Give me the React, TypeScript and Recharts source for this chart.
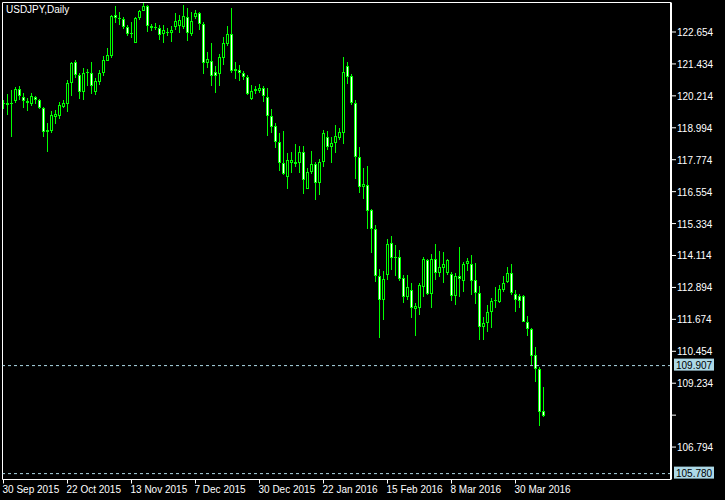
import React from 'react';
import { ComposedChart, Bar, XAxis, YAxis, ReferenceLine } from 'recharts';

// USDJPY daily candles, 30 Sep 2015 .. 8 Apr 2016 (one entry per trading day)
const opens = [
  119.95, 119.88, 119.92, 120.00, 120.46, 120.18, 120.02, 119.92, 120.16, 120.06,
  119.74, 118.82, 118.86, 119.39, 119.46, 119.80, 119.92, 120.69, 121.51, 121.00,
  120.37, 121.08, 121.08, 120.37, 120.76, 121.08, 121.56, 121.75, 123.30, 123.18,
  123.15, 122.83, 122.58, 122.25, 123.18, 123.46, 123.65, 122.88, 122.83, 122.82,
  122.58, 122.67, 122.60, 122.83, 122.90, 122.83, 123.24, 122.57, 123.21, 123.37,
  122.95, 121.46, 121.56, 121.11, 121.05, 121.65, 122.18, 122.57, 121.18, 121.20,
  121.08, 120.92, 120.11, 120.39, 120.41, 120.51, 120.18, 119.43, 119.06, 118.44,
  117.64, 117.10, 117.64, 117.60, 117.66, 118.06, 116.64, 117.29, 117.61, 116.90,
  117.67, 118.65, 118.27, 118.40, 118.62, 118.81, 121.36, 120.97, 119.93, 117.87,
  116.75, 116.81, 115.85, 115.11, 113.33, 112.41, 113.36, 114.58, 114.04, 114.04,
  113.24, 112.54, 112.80, 112.06, 112.12, 112.92, 113.94, 112.64, 113.98, 113.46,
  113.65, 113.43, 113.41, 112.58, 113.33, 113.15, 113.78, 113.78, 113.18, 112.67,
  111.40, 111.52, 111.94, 112.38, 112.35, 112.80, 113.11, 113.43, 112.64, 112.57,
  112.57, 111.56, 111.30, 110.31, 109.76, 108.17,
];
const highs = [
  120.05, 120.27, 120.44, 120.54, 120.59, 120.31, 120.15, 120.34, 120.22, 120.09,
  119.78, 119.16, 119.64, 119.67, 119.98, 120.06, 120.82, 121.52, 121.57, 121.10,
  121.27, 121.23, 121.51, 120.91, 121.20, 121.74, 122.03, 123.30, 123.65, 123.43,
  123.24, 122.92, 123.05, 123.21, 123.50, 123.75, 123.69, 122.96, 122.99, 122.92,
  122.92, 122.79, 122.88, 123.37, 123.30, 123.69, 123.56, 123.41, 123.50, 123.41,
  123.05, 121.88, 122.22, 121.36, 121.80, 122.45, 122.88, 123.56, 121.51, 121.39,
  121.18, 121.01, 120.63, 120.59, 120.67, 120.59, 120.50, 119.71, 119.19, 118.78,
  118.87, 118.02, 118.06, 118.37, 118.31, 118.31, 117.44, 118.11, 117.70, 117.79,
  118.91, 118.87, 118.65, 119.10, 118.97, 121.71, 121.52, 121.05, 120.06, 118.27,
  117.47, 117.55, 115.88, 115.28, 113.60, 113.54, 114.75, 114.87, 114.52, 114.33,
  113.37, 113.37, 113.08, 112.29, 113.05, 114.07, 113.98, 114.17, 114.55, 114.29,
  114.25, 113.98, 113.50, 113.43, 114.45, 113.88, 114.01, 114.13, 113.84, 112.95,
  111.75, 112.22, 112.50, 112.92, 112.99, 113.33, 113.66, 113.79, 112.80, 112.64,
  112.60, 111.80, 111.33, 110.63, 109.87, 109.09,
];
const lows = [
  119.72, 119.48, 118.65, 119.93, 120.06, 119.74, 119.64, 119.84, 119.93, 119.71,
  118.63, 118.04, 118.80, 119.13, 119.32, 119.74, 119.61, 120.21, 120.88, 120.12,
  120.03, 120.57, 120.27, 120.27, 120.63, 120.97, 121.52, 121.65, 122.99, 122.92,
  122.79, 122.50, 122.44, 122.22, 123.11, 123.43, 122.64, 122.71, 122.73, 122.35,
  122.25, 122.48, 122.28, 122.73, 122.63, 122.79, 122.28, 122.48, 123.15, 122.73,
  121.08, 121.27, 120.57, 120.34, 120.57, 121.39, 122.12, 121.08, 120.85, 120.76,
  120.82, 120.25, 120.06, 120.29, 120.34, 119.99, 118.68, 118.78, 118.25, 117.32,
  117.19, 116.66, 117.25, 117.51, 117.29, 116.49, 116.62, 117.25, 116.26, 116.43,
  117.51, 118.15, 117.64, 118.04, 118.53, 118.37, 120.69, 119.85, 117.06, 116.52,
  116.29, 115.14, 114.20, 113.09, 110.95, 111.65, 113.20, 113.56, 113.33, 113.15,
  112.29, 112.41, 111.75, 111.01, 111.84, 112.54, 112.61, 112.12, 113.18, 113.28,
  113.08, 113.37, 112.39, 112.20, 112.54, 112.73, 113.50, 112.61, 112.29, 110.89,
  110.89, 111.20, 111.37, 112.12, 112.29, 112.73, 113.03, 112.61, 111.97, 112.10,
  111.55, 111.05, 109.90, 109.29, 107.61, 107.96,
];
const closes = [
  119.90, 119.93, 119.94, 120.46, 120.22, 120.00, 119.94, 120.22, 120.06, 119.74,
  118.82, 118.91, 119.47, 119.51, 119.85, 119.93, 120.69, 121.48, 121.00, 120.37,
  121.10, 121.14, 120.60, 120.78, 121.08, 121.58, 121.78, 123.28, 123.18, 123.16,
  122.86, 122.58, 122.60, 123.18, 123.46, 123.65, 122.88, 122.79, 122.84, 122.54,
  122.73, 122.60, 122.73, 123.09, 123.12, 123.27, 122.60, 123.09, 123.37, 122.96,
  121.46, 121.61, 120.97, 120.99, 121.69, 122.22, 122.57, 121.16, 121.24, 121.08,
  120.92, 120.29, 120.40, 120.49, 120.51, 120.22, 119.46, 119.04, 118.46, 117.66,
  117.22, 117.76, 117.76, 117.70, 118.06, 117.00, 117.32, 117.61, 116.90, 117.70,
  118.78, 118.27, 118.40, 118.68, 118.83, 121.13, 120.95, 119.95, 117.87, 116.75,
  116.85, 115.83, 115.11, 113.33, 112.41, 113.20, 114.55, 114.01, 114.02, 113.20,
  112.52, 112.90, 112.10, 112.19, 112.99, 113.98, 112.64, 113.98, 113.46, 113.66,
  113.78, 113.94, 112.58, 113.33, 113.20, 113.78, 113.92, 113.15, 112.67, 111.40,
  111.52, 111.97, 112.38, 112.40, 112.83, 113.05, 113.43, 112.67, 112.41, 112.39,
  111.59, 111.29, 110.29, 109.76, 108.15, 107.99,
];

const dateTicks = [0, 16, 32, 48, 64, 80, 96, 112, 128];
const dateLabels = [
  '30 Sep 2015', '22 Oct 2015', '13 Nov 2015', '7 Dec 2015', '30 Dec 2015',
  '22 Jan 2016', '15 Feb 2016', '8 Mar 2016', '30 Mar 2016',
];
const priceTicks = [
  122.654, 121.434, 120.214, 118.994, 117.774, 116.554, 115.334,
  114.114, 112.894, 111.674, 110.454, 109.234, 108.014, 106.794,
];
const unlabeledPrices = [108.014];
const markedPrices = [109.907, 105.78];

const data = opens.map((open, i) => ({
  i,
  open,
  high: highs[i],
  low: lows[i],
  close: closes[i],
  range: [lows[i], highs[i]],
}));

const GREEN = '#00ff00';
const FONT = '"Liberation Sans", Arial, sans-serif';

const Candle = (props: any) => {
  const { x, y, width, height, payload } = props;
  const { open, close, high, low } = payload;
  const top = Math.min(y, y + height);
  const h = Math.abs(height);
  const ppu = high > low ? h / (high - low) : 0;
  const cx = Math.floor(x + width / 2) + 0.5;
  const bTop = Math.round(top + (high - Math.max(open, close)) * ppu);
  const bBot = Math.round(top + (high - Math.min(open, close)) * ppu);
  const bh = Math.max(1, bBot - bTop);
  const bear = close < open;
  return (
    <g>
      <rect x={cx - 0.5} y={Math.round(top)} width={1} height={Math.max(1, Math.round(h))} fill={GREEN} />
      <rect x={cx - 1.5} y={bTop} width={3} height={bh} fill={GREEN} />
      {bh > 2 && (
        <rect x={cx - 0.5} y={bTop + 1} width={1} height={bh - 2} fill={bear ? '#ffffff' : '#000000'} />
      )}
    </g>
  );
};

const DateTick = (props: any) => {
  const { x, y, payload } = props;
  const k = dateTicks.indexOf(payload.value);
  return (
    <g>
      <line x1={x} x2={x} y1={y} y2={y + 4} stroke="#fff" />
      <text x={x - 1} y={y + 13} fill="#fff" fontSize={10} fontFamily={FONT} textAnchor="start">
        {k >= 0 ? dateLabels[k] : ''}
      </text>
    </g>
  );
};

const PriceTick = (props: any) => {
  const { x, y, payload } = props;
  return (
    <g>
      <line x1={x + 1} x2={x + 5} y1={y} y2={y} stroke="#fff" />
      {!unlabeledPrices.includes(payload.value) && (
        <text x={x + 6} y={y + 4} fill="#fff" fontSize={10} fontFamily={FONT} textAnchor="start">
          {payload.value.toFixed(3)}
        </text>
      )}
    </g>
  );
};

const PriceBadge = (props: any) => {
  const { viewBox, price } = props;
  if (!viewBox) return null;
  const bx = viewBox.x + viewBox.width + 3;
  const by = viewBox.y;
  return (
    <g>
      <rect x={bx} y={by - 7} width={40} height={12} fill="#add8e6" />
      <text x={bx + 2} y={by + 3} fill="#000" fontSize={10} fontFamily={FONT}>
        {price.toFixed(3)}
      </text>
    </g>
  );
};

export default function App() {
  return (
    <div style={{ position: 'fixed', left: 0, top: 0, width: 725, height: 500, background: '#000' }}>
      <ComposedChart
        width={725}
        height={500}
        data={data}
        margin={{ top: 2.5, left: 2.5, right: 0, bottom: 0 }}
      >
        <XAxis
          type="number"
          dataKey="i"
          domain={[-0.25, 166.875]}
          allowDataOverflow
          ticks={dateTicks}
          interval={0}
          height={20.5}
          tickSize={0}
          tickMargin={0}
          tickLine={false}
          axisLine={{ stroke: '#fff' }}
          tick={<DateTick />}
        />
        <YAxis
          orientation="right"
          domain={[105.555, 123.781]}
          allowDataOverflow
          ticks={priceTicks}
          interval={0}
          width={54}
          tickSize={0}
          tickMargin={0}
          tickLine={false}
          axisLine={{ stroke: '#fff', strokeWidth: 2 }}
          tick={<PriceTick />}
        />
        <ReferenceLine y={123.781} stroke="#fff" />
        <ReferenceLine x={-0.25} stroke="#fff" />
        {markedPrices.map((p) => (
          <ReferenceLine
            key={p}
            y={p}
            stroke="#add8e6"
            strokeDasharray="3 3"
            label={<PriceBadge price={p} />}
          />
        ))}
        <Bar dataKey="range" barSize={3} shape={<Candle />} isAnimationActive={false} />
      </ComposedChart>
      <div
        style={{
          position: 'absolute',
          left: 6,
          top: 4,
          color: '#fff',
          fontSize: 10,
          fontFamily: FONT,
          lineHeight: '12px',
        }}
      >
        USDJPY,Daily
      </div>
    </div>
  );
}
